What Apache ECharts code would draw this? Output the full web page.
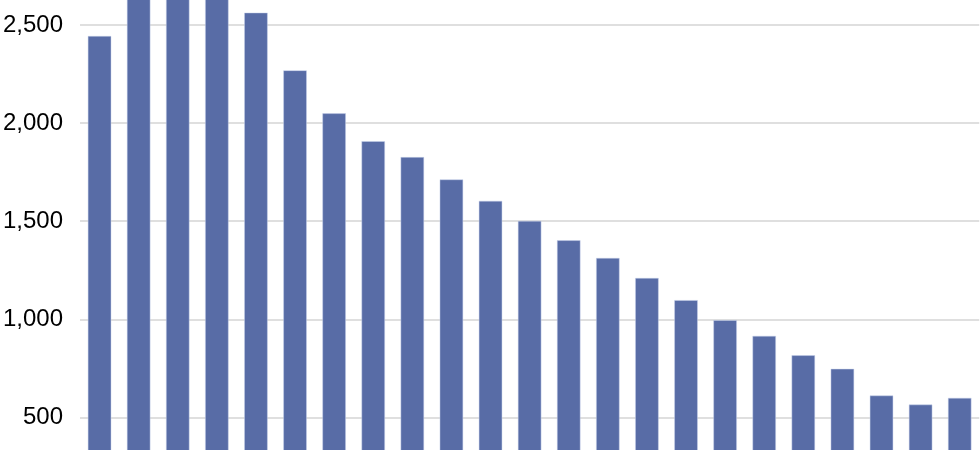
<!DOCTYPE html>
<html>
<head>
<meta charset="utf-8">
<script src="https://cdn.jsdelivr.net/npm/echarts@6/dist/echarts.min.js"></script>
<style>html,body{margin:0;padding:0;background:#fff;}#c{width:980px;height:450px;}</style>
</head>
<body>
<div id="c"></div>
<script>
const categories = ['1','2','3','4','5','6','7','8','9','10','11','12','13','14','15','16','17','18','19','20','21','22','23'];
const values = [2444, 2690, 2710, 2680, 2563, 2269, 2050, 1908, 1827, 1713, 1604, 1502, 1403, 1313, 1211, 1098, 996, 916, 817, 748, 612, 566, 600];
const yTicks = { min: 0, max: 2500, interval: 500 };

const chart = echarts.init(document.getElementById('c'), null, { renderer: 'canvas' });
chart.setOption({
  animation: false,
  backgroundColor: '#ffffff',
  grid: { left: 80, width: 899.25, top: 25, height: 490.6, containLabel: false, outerBoundsMode: 'none' },
  xAxis: {
    type: 'category',
    data: categories,
    axisLine: { show: false },
    axisTick: { show: false },
    axisLabel: { show: false },
    splitLine: { show: false }
  },
  yAxis: {
    type: 'value',
    min: yTicks.min,
    max: yTicks.max,
    interval: yTicks.interval,
    axisLine: { show: false },
    axisTick: { show: false },
    axisLabel: {
      margin: 17,
      fontFamily: 'Liberation Sans, Arial, sans-serif',
      fontSize: 24,
      color: '#000',
      formatter: v => v.toLocaleString('en-US')
    },
    splitLine: { show: true, lineStyle: { color: '#d4d4d4', width: 1.5 } }
  },
  series: [{
    type: 'bar',
    data: values,
    barWidth: 23.5,
    clip: false,
    itemStyle: { color: '#586ca6', borderColor: 'rgba(200,210,235,0.8)', borderWidth: 0.6 }
  }]
});
</script>
</body>
</html>
